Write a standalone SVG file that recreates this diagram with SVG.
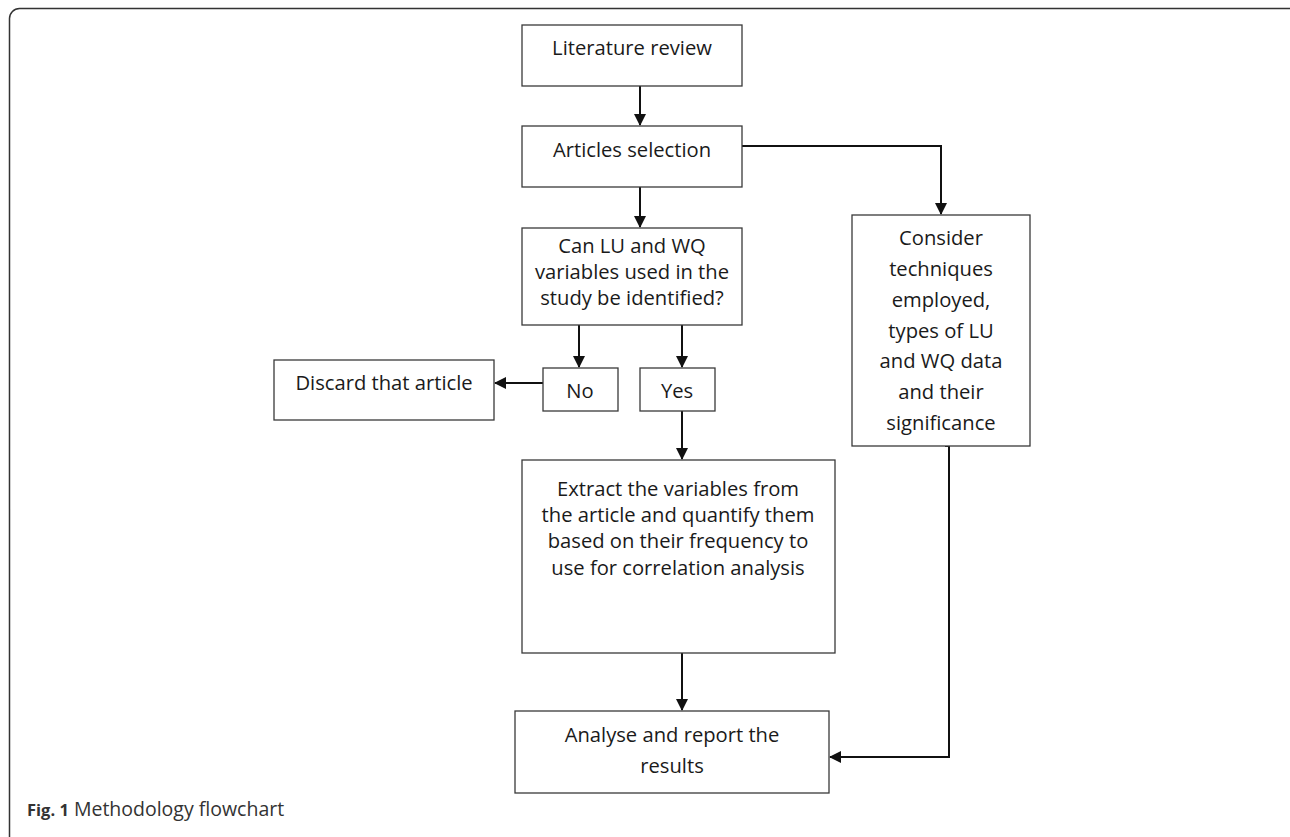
<svg xmlns="http://www.w3.org/2000/svg" width="1290" height="837" viewBox="0 0 1290 837">
<style>
.box{fill:#fff;stroke:#3a3a3a;stroke-width:1.3}
.t{font-family:"Open Sans","Noto Sans",sans-serif;font-size:20.2px;fill:#1a1a1a;text-anchor:middle}
.c{fill:none;stroke:#111;stroke-width:2}
.cap{font-family:"Open Sans","Noto Sans",sans-serif;font-size:19.5px;fill:#333}
</style>
<defs>
<marker id="ah" markerWidth="12" markerHeight="12" refX="11" refY="6" orient="auto" markerUnits="userSpaceOnUse">
<path d="M0,0 L12,6 L0,12 z" fill="#111"/>
</marker>
</defs>
<rect x="9.5" y="8.5" width="1300" height="840" rx="10" fill="#fff" stroke="#333" stroke-width="1.5"/>
<g id="connectors">
<path class="c" d="M640,86 V125" marker-end="url(#ah)"/>
<path class="c" d="M640,187 V227" marker-end="url(#ah)"/>
<path class="c" d="M742,146 H941 V214" marker-end="url(#ah)"/>
<path class="c" d="M579,325 V367" marker-end="url(#ah)"/>
<path class="c" d="M682,325 V367" marker-end="url(#ah)"/>
<path class="c" d="M543,383 H495" marker-end="url(#ah)"/>
<path class="c" d="M682,411 V459" marker-end="url(#ah)"/>
<path class="c" d="M682,653 V710" marker-end="url(#ah)"/>
<path class="c" d="M945,446 H949 V757 H830" marker-end="url(#ah)"/>
</g>
<g id="lit"><rect class="box" x="522" y="25" width="220" height="61"/><text class="t" x="632" y="55">Literature review</text></g>
<g id="sel"><rect class="box" x="522" y="126" width="220" height="61"/><text class="t" x="632" y="157">Articles selection</text></g>
<g id="can"><rect class="box" x="522" y="228" width="220" height="97"/>
<text class="t" x="632" y="253">Can LU and WQ</text><text class="t" x="632" y="279">variables used in the</text><text class="t" x="632" y="305">study be identified?</text></g>
<g id="consider"><rect class="box" x="852" y="215" width="178" height="231"/>
<text class="t" x="941" y="245">Consider</text><text class="t" x="941" y="276">techniques</text><text class="t" x="941" y="307">employed,</text><text class="t" x="941" y="338">types of LU</text><text class="t" x="941" y="368">and WQ data</text><text class="t" x="941" y="399">and their</text><text class="t" x="941" y="430">significance</text></g>
<g id="discard"><rect class="box" x="274" y="360" width="220" height="60"/><text class="t" x="384" y="390">Discard that article</text></g>
<g id="no"><rect class="box" x="543" y="368" width="75" height="43"/><text class="t" x="580" y="398">No</text></g>
<g id="yes"><rect class="box" x="640" y="368" width="75" height="43"/><text class="t" x="677" y="398">Yes</text></g>
<g id="extract"><rect class="box" x="522" y="460" width="313" height="193"/>
<text class="t" x="678" y="496">Extract the variables from</text><text class="t" x="678" y="522">the article and quantify them</text><text class="t" x="678" y="548">based on their frequency to</text><text class="t" x="678" y="575">use for correlation analysis</text></g>
<g id="analyse"><rect class="box" x="515" y="711" width="314" height="82"/>
<text class="t" x="672" y="742">Analyse and report the</text><text class="t" x="672" y="773">results</text></g>
<text class="cap" x="27" y="816"><tspan font-weight="bold" font-size="16.5px">Fig. 1</tspan> Methodology flowchart</text>
</svg>
